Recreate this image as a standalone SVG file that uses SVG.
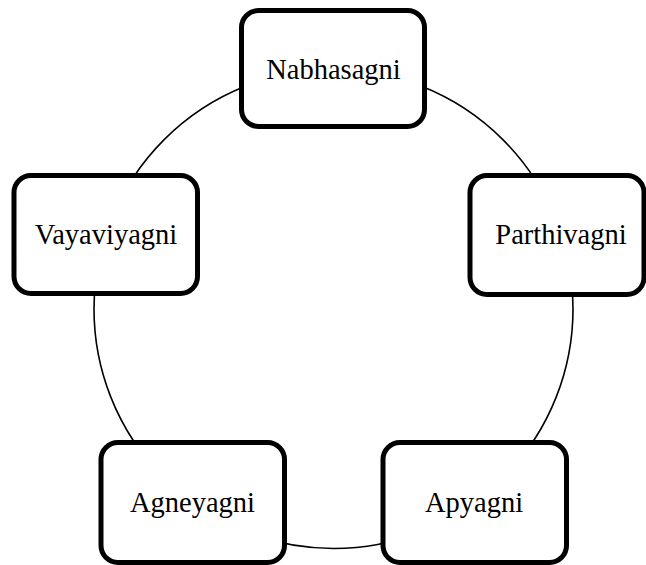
<svg xmlns="http://www.w3.org/2000/svg" width="646" height="565" viewBox="0 0 646 565">
<style>
.box{fill:#fff;stroke:#000;stroke-width:5}
.lbl{font-family:"Liberation Serif","Times New Roman",serif;font-size:28.5px;fill:#000;text-anchor:middle}
.conn{fill:none;stroke:#000;stroke-width:1.6}
</style>
<rect width="646" height="565" fill="#fff"/>
<g id="connectors">
<circle class="conn" cx="333.5" cy="309" r="239.5"/>
</g>
<g id="nabhasagni">
<rect class="box" x="241.5" y="10.5" width="183" height="116" rx="17"/>
<text class="lbl" x="333.5" y="78.6">Nabhasagni</text>
</g>
<g id="vayaviyagni">
<rect class="box" x="14" y="175.5" width="183.5" height="118" rx="17"/>
<text class="lbl" x="106" y="244">Vayaviyagni</text>
</g>
<g id="parthivagni">
<rect class="box" x="470" y="175.5" width="174" height="119" rx="17"/>
<text class="lbl" x="561" y="244">Parthivagni</text>
</g>
<g id="agneyagni">
<rect class="box" x="101" y="442.5" width="183.5" height="120" rx="17"/>
<text class="lbl" x="192.5" y="512">Agneyagni</text>
</g>
<g id="apyagni">
<rect class="box" x="383" y="442.5" width="183.5" height="120" rx="17"/>
<text class="lbl" x="474" y="512">Apyagni</text>
</g>
</svg>
